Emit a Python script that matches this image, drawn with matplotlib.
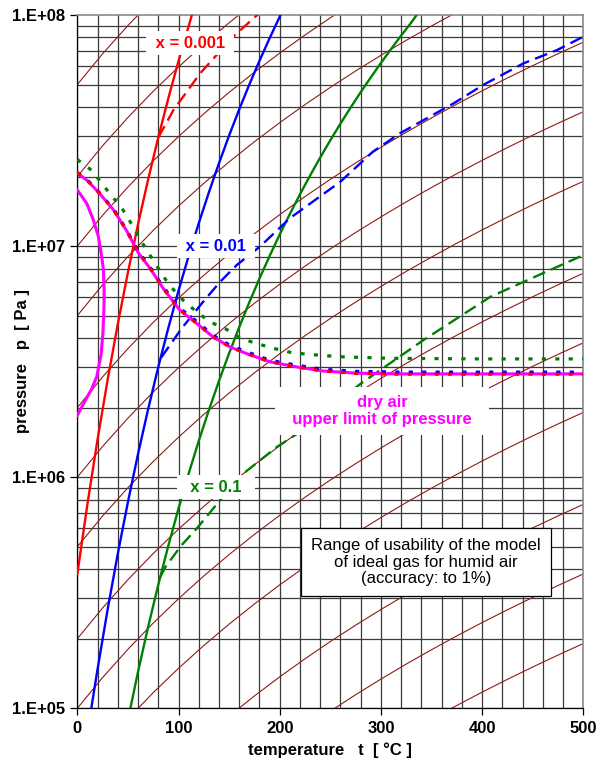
import matplotlib
matplotlib.use("Agg")
import matplotlib.pyplot as plt
import numpy as np

plt.rcParams['font.family'] = ['Liberation Sans', 'DejaVu Sans']

# isentropes p = p0 * factor(t)  (shape)
isentropeT = [0, 25, 50, 75, 100, 125, 150, 175, 200, 225, 250, 275, 300,
              325, 350, 375, 400, 425, 450, 475, 500]
isentropeFactor = [1.0, 1.359, 1.801, 2.338, 2.980, 3.739, 4.627, 5.657, 6.841,
                   8.192, 9.723, 11.45, 13.38, 15.54, 17.93, 20.58, 23.50, 26.69,
                   30.19, 34.00, 38.15]
isentropeBase = [5e3, 1e4, 2e4, 5e4, 1e5, 2e5, 5e5, 1e6, 2e6, 5e6, 1e7, 2e7, 5e7]

# saturation lines (solid)
satRedT = [0, 10, 20, 30, 40, 50, 60, 70, 80, 90, 100, 110, 114]
satRedP = [3.81e5, 7.65e5, 1.457e6, 2.646e6, 4.60e6, 7.69e6, 1.243e7, 1.944e7,
           2.954e7, 4.372e7, 6.32e7, 8.93e7, 1.03e8]
satBlueT = [13.5, 20, 30, 40, 50, 60, 70, 80, 90, 100, 110, 120, 130, 140, 150,
            160, 170, 180, 190, 200, 202]
satBlueP = [9.8e4, 1.478e5, 2.684e5, 4.667e5, 7.805e5, 1.261e6, 1.972e6, 2.996e6,
            4.435e6, 6.41e6, 9.06e6, 1.256e7, 1.708e7, 2.285e7, 3.01e7, 3.907e7,
            5.007e7, 6.338e7, 7.93e7, 9.83e7, 1.03e8]
satGreenT = [52, 60, 70, 80, 90, 100, 110, 120, 130, 140, 150, 160, 170, 180, 190,
             200, 210, 220, 230, 240, 250, 260, 270, 280, 290, 300, 310, 320, 330, 336]
satGreenP = [9.8e4, 1.44e5, 2.253e5, 3.423e5, 5.067e5, 7.32e5, 1.035e6, 1.435e6,
             1.952e6, 2.61e6, 3.438e6, 4.463e6, 5.72e6, 7.24e6, 9.06e6, 1.123e7,
             1.377e7, 1.675e7, 2.019e7, 2.417e7, 2.871e7, 3.388e7, 3.973e7, 4.633e7,
             5.373e7, 6.2e7, 7.12e7, 8.15e7, 9.28e7, 1.01e8]

# dashed branches
dashRedT = [80, 95, 121.5, 154, 180]
dashRedP = [2.95e7, 3.88e7, 5.6e7, 8.06e7, 1.02e8]
dashBlueT = [83, 95, 103, 123, 141, 157.5, 181, 210, 260, 292, 319, 372, 401, 441, 474, 500]
dashBlueP = [3.3e6, 3.92e6, 4.4e6, 5.65e6, 7.0e6, 8.28e6, 1.0e7, 1.32e7, 1.9e7,
             2.56e7, 3.08e7, 4.15e7, 4.98e7, 6.18e7, 7.05e7, 8.06e7]
dashGreenT = [82, 87, 103, 118, 141, 162, 197, 220, 280, 342, 408, 500]
dashGreenP = [3.7e5, 4.09e5, 5.08e5, 6.0e5, 7.94e5, 1.02e6, 1.35e6, 1.57e6,
              2.54e6, 3.92e6, 6.03e6, 9.14e6]

# dry air upper limit and dotted limits for each x
dryT = [0, 10, 22, 36, 49, 60, 72, 85, 101, 118, 134, 151, 167, 190, 217, 243,
        276, 320, 400, 500]
dryP = [2.07e7, 1.92e7, 1.69e7, 1.43e7, 1.16e7, 9.4e6, 8.0e6, 6.55e6, 5.3e6,
        4.63e6, 4.05e6, 3.66e6, 3.43e6, 3.16e6, 3.0e6, 2.88e6, 2.82e6, 2.8e6,
        2.8e6, 2.8e6]
dotBlueP = [2.08e7, 1.93e7, 1.70e7, 1.44e7, 1.17e7, 9.5e6, 8.1e6, 6.65e6, 5.4e6,
            4.72e6, 4.12e6, 3.72e6, 3.49e6, 3.21e6, 3.05e6, 2.93e6, 2.87e6, 2.85e6,
            2.85e6, 2.85e6]
dotRedP = [2.07e7, 1.92e7, 1.69e7, 1.43e7, 1.16e7, 9.4e6, 8.0e6, 6.55e6, 5.3e6,
           4.63e6, 4.05e6, 3.66e6, 3.43e6, 3.16e6, 3.0e6, 2.88e6, 2.81e6, 2.79e6,
           2.79e6, 2.79e6]
dotGreenT = [0, 14, 32, 44, 52, 62, 70, 78, 85, 92, 106, 118, 131, 146, 161, 177,
             194, 213, 240, 260, 309, 400, 500]
dotGreenP = [2.37e7, 2.13e7, 1.69e7, 1.46e7, 1.28e7, 1.07e7, 9.4e6, 8.3e6, 7.4e6,
             6.7e6, 5.74e6, 5.2e6, 4.7e6, 4.4e6, 4.0e6, 3.79e6, 3.61e6, 3.45e6,
             3.37e6, 3.32e6, 3.27e6, 3.25e6, 3.25e6]

# the C-shaped magenta curve at the left
curveT = [0, 9.3, 15.8, 20.8, 24.1, 25.8, 26.5, 26.4, 25.3, 23.5, 19.2, 14, 9.9, 4, 0]
curveP = [1.75e7, 1.53e7, 1.3e7, 1.1e7, 9.0e6, 7.9e6, 6.5e6, 5.5e6, 4.2e6, 3.4e6,
          2.72e6, 2.4e6, 2.23e6, 2.0e6, 1.85e6]

xTicks = [0, 100, 200, 300, 400, 500]
yTicks = [1e5, 1e6, 1e7, 1e8]
yTickLabels = ['1.E+05', '1.E+06', '1.E+07', '1.E+08']

fig = plt.figure(figsize=(5.97, 7.69), dpi=100)
ax = fig.add_axes([0.1295, 0.0789, 0.8476, 0.9016])
ax.set_yscale('log')
ax.set_xlim(0, 500)
ax.set_ylim(1e5, 1e8)

# grid
gridColor = '#3a3a3a'
for t in range(0, 501, 20):
    ax.axvline(t, color=gridColor, lw=0.9, zorder=1)
for k in range(5, 8):
    for m in range(1, 10):
        ax.axhline(m * 10.0 ** k, color=gridColor, lw=0.9, zorder=1)

# isentropes
for p0 in isentropeBase:
    ax.plot(isentropeT, [p0 * f for f in isentropeFactor], color='#8e1a14', lw=0.8, zorder=2)

dashed = (0, (5.5, 2.7))
dotted = (0, (1.3, 2.9))

ax.plot(satRedT, satRedP, color='#ff0000', lw=1.7, zorder=3)
ax.plot(satBlueT, satBlueP, color='#0000ff', lw=1.7, zorder=3)
ax.plot(satGreenT, satGreenP, color='#008000', lw=1.7, zorder=3)
ax.plot(dashRedT, dashRedP, color='#ff0000', lw=1.7, ls=dashed, zorder=3)
ax.plot(dashBlueT, dashBlueP, color='#0000ff', lw=1.7, ls=dashed, zorder=3)
ax.plot(dashGreenT, dashGreenP, color='#008000', lw=1.7, ls=dashed, zorder=3)

ax.plot(dryT, dryP, color='#ff00ff', lw=2.2, zorder=3)
ax.plot(curveT, curveP, color='#ff00ff', lw=2.2, zorder=3)
ax.plot(dotGreenT, dotGreenP, color='#008000', lw=2.3, ls=dotted, zorder=3)
ax.plot(dryT, dotBlueP, color='#0000ff', lw=2.3, ls=dotted, zorder=3)
ax.plot(dryT, dotRedP, color='#ff0000', lw=2.3, ls=dotted, zorder=3)

# labels on the lines (white boxes hide the grid behind them)
boxNone = dict(facecolor='white', edgecolor='none', pad=3)
ax.text(0.2227, 0.9596, ' x = 0.001 ', transform=ax.transAxes, color='#ff0000',
        fontsize=12, fontweight='bold', ha='center', va='center', bbox=boxNone, zorder=6)
ax.text(0.274, 0.6668, ' x = 0.01 ', transform=ax.transAxes, color='#0000ff',
        fontsize=12, fontweight='bold', ha='center', va='center', bbox=boxNone, zorder=6)
ax.text(0.274, 0.319, '  x = 0.1  ', transform=ax.transAxes, color='#008000',
        fontsize=12, fontweight='bold', ha='center', va='center', bbox=boxNone, zorder=6)
ax.text(0.602, 0.4288, 'dry air\n  upper limit of pressure  ', transform=ax.transAxes,
        color='#ff00ff', fontsize=12, fontweight='bold', ha='center', va='center',
        linespacing=1.1, bbox=dict(facecolor='white', edgecolor='none', pad=6), zorder=6)
ax.text(0.689, 0.211, 'Range of usability of the model\nof ideal gas for humid air\n(accuracy: to 1%)',
        transform=ax.transAxes, color='black', fontsize=12, ha='center', va='center',
        linespacing=1.15,
        bbox=dict(facecolor='white', edgecolor='black', lw=0.9, boxstyle='square,pad=0.6'),
        zorder=6)

# axes
ax.set_xticks(xTicks)
ax.set_xticklabels([str(t) for t in xTicks], fontsize=12, fontweight='bold')
ax.set_yticks(yTicks)
ax.set_yticklabels(yTickLabels, fontsize=12, fontweight='bold')
ax.yaxis.set_minor_locator(matplotlib.ticker.NullLocator())
ax.tick_params(direction='out', length=5, width=0.9, color='black', pad=4)
for side in ['top', 'right']:
    ax.spines[side].set_color('#8a8a8a')
    ax.spines[side].set_linewidth(1.2)
for side in ['left', 'bottom']:
    ax.spines[side].set_color('black')
    ax.spines[side].set_linewidth(0.9)

ax.set_xlabel('temperature   t  [ °C ]', fontsize=12, fontweight='bold', labelpad=5)
fig.text(22.5 / 597, 1 - 361 / 769, 'pressure   p  [ Pa ]', rotation=90, fontsize=12,
         fontweight='bold', ha='center', va='center')

fig.savefig('out.png', dpi=100)
